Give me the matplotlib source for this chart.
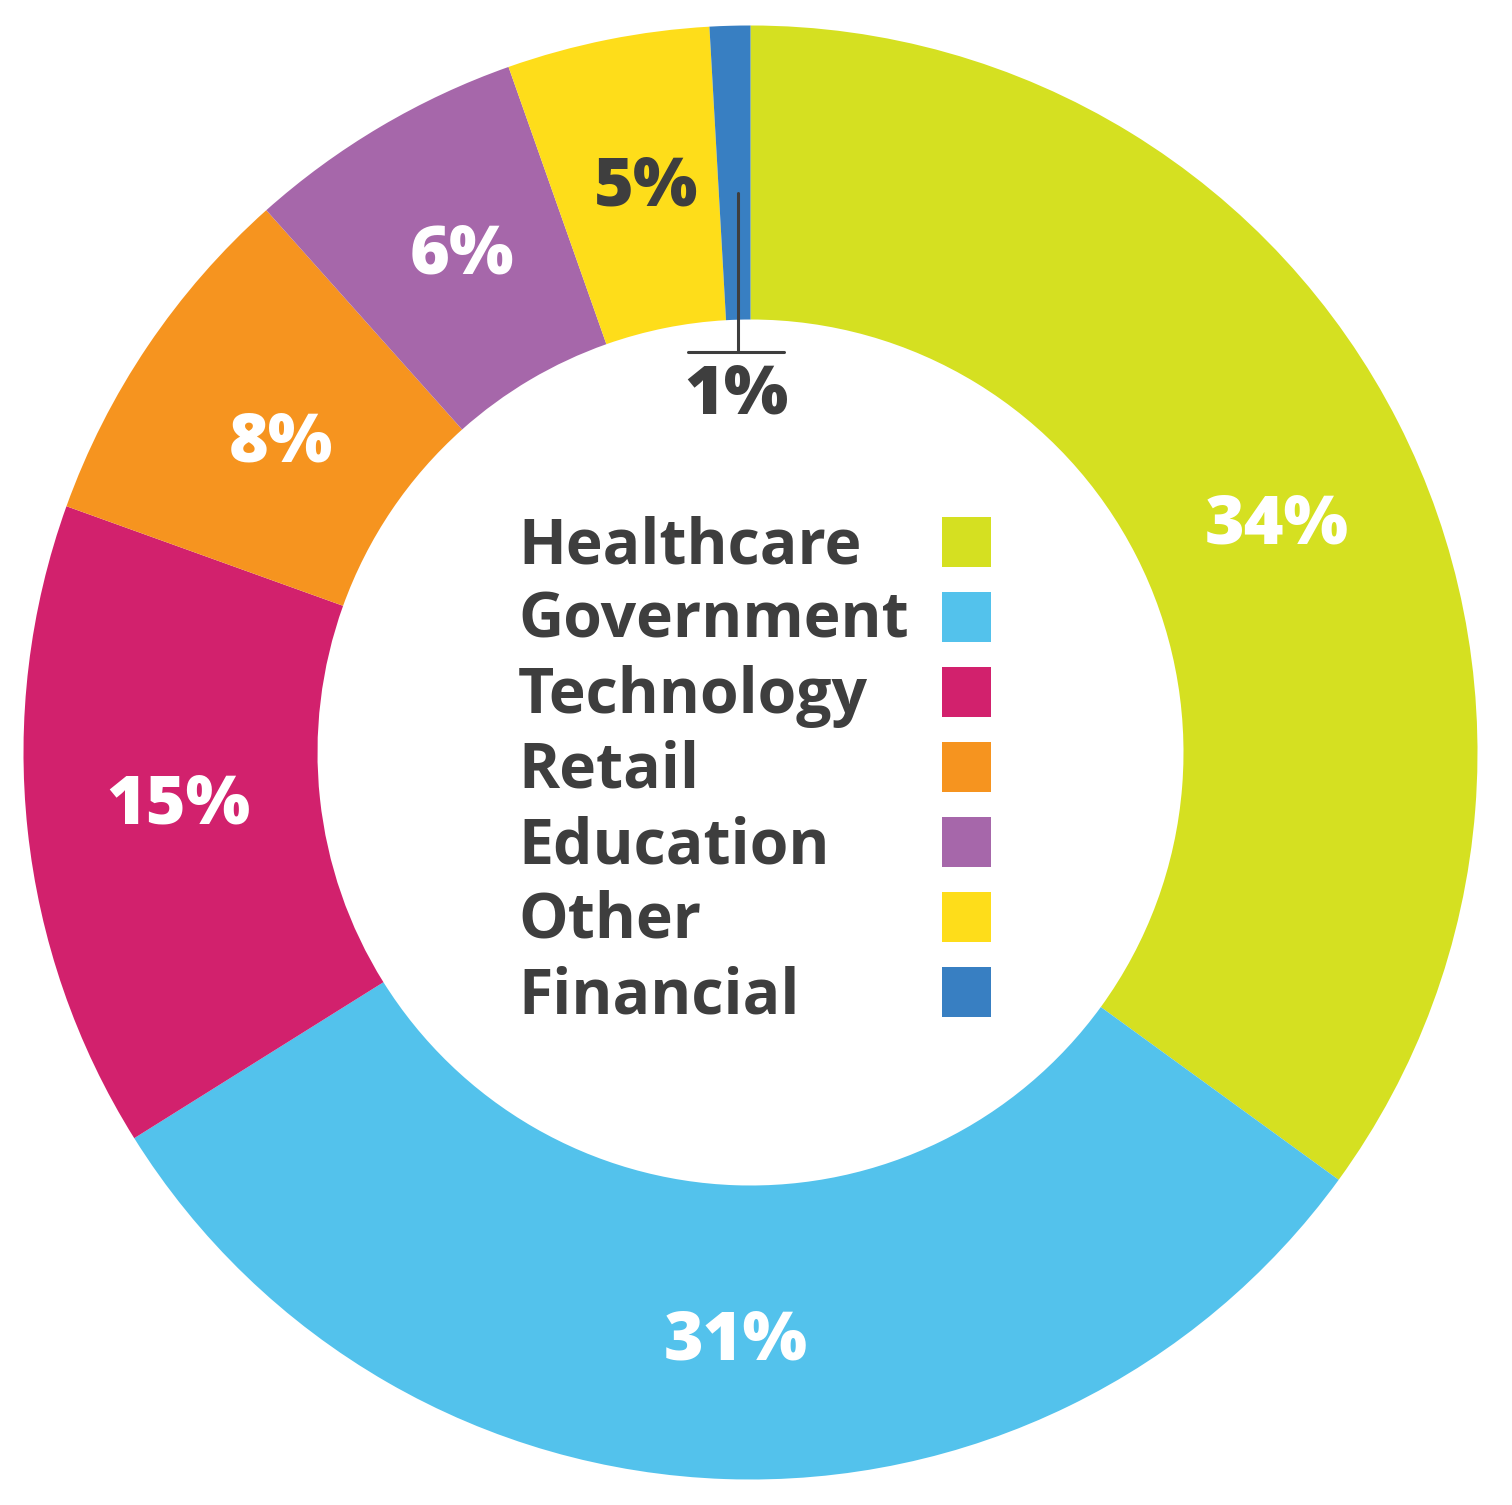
import matplotlib
matplotlib.use("Agg")
import matplotlib.pyplot as plt
from matplotlib.patches import Rectangle

categories = ["Healthcare", "Government", "Technology", "Retail", "Education", "Other", "Financial"]
values = [35.0, 31.1, 14.4, 7.9, 6.2, 4.5, 0.9]
pct_labels = ["34%", "31%", "15%", "8%", "6%", "5%", "1%"]
colors = ["#D5E021", "#53C2EC", "#D2216D", "#F6941F", "#A667AA", "#FEDD1A", "#387FC2"]
label_colors = ["white", "white", "white", "white", "white", "#3E3E3E", "#3E3E3E"]

W, H = 1512, 1505
fig = plt.figure(figsize=(W / 100, H / 100), dpi=100)
ax = fig.add_axes([0, 0, 1, 1])

cx, cy, R, r_in = 750.5, 752.5, 727, 433
ax.pie(values, colors=colors, startangle=-90, counterclock=True,
       center=(cx, cy), radius=R, wedgeprops=dict(width=R - r_in, linewidth=0),
       frame=True)
ax.set_xlim(0, W)
ax.set_ylim(H, 0)
ax.set_aspect("equal")
ax.axis("off")

dark = "#3E3E3E"
# (center x, baseline y) in pixels
label_pos = [(1277, 543), (736, 1360), (178, 823), (281, 461), (462, 274), (646, 206), (736, 413)]
for (x, y), t, c in zip(label_pos, pct_labels, label_colors):
    ax.text(x, y, t, color=c, fontsize=49, fontfamily="Open Sans", fontweight="heavy",
            ha="center", va="baseline")

# leader line for 1%
ax.plot([738, 738], [193, 352], color=dark, lw=2.2, solid_capstyle="round")
ax.plot([688, 784], [352, 352], color=dark, lw=2.2, solid_capstyle="round")

# legend
y0, dy = 563, 75
for i, (name, col) in enumerate(zip(categories, colors)):
    y = y0 + i * dy
    ax.text(518, y, name, color=dark, fontsize=45, fontfamily="Open Sans", fontweight="bold",
            ha="left", va="baseline")
    ax.add_patch(Rectangle((942, y - 46), 49, 50, facecolor=col, edgecolor="none"))

fig.savefig("out.png", dpi=100, facecolor="white")
